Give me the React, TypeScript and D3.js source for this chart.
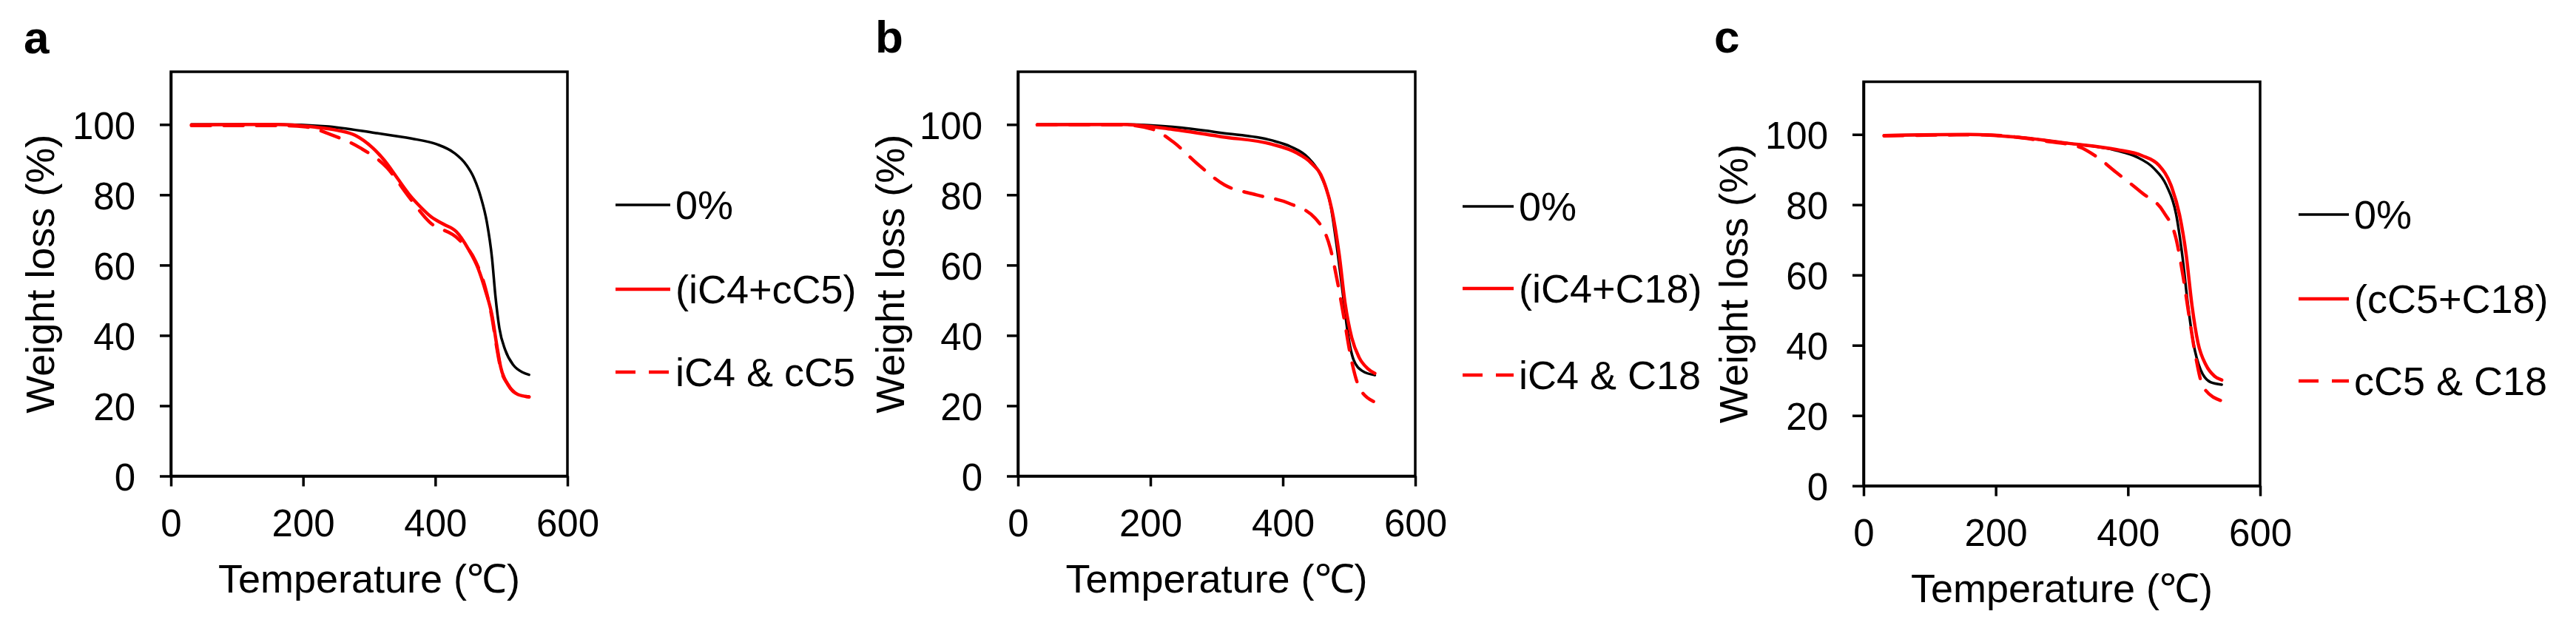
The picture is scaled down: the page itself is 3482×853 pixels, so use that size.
import { useEffect, useRef } from "react";
import * as d3 from "d3";

// TGA curves: [temperature (°C), weight (%)]
const aNeat = [
  [31, 100], [159, 100], [234, 99.5], [309, 97.6], [364, 96], [402, 94.4], [428, 92],
  [447, 88.5], [458, 85], [469, 79.3], [478, 72.3], [486, 61.8], [491, 51.3], [497, 42.1],
  [506, 35.8], [518, 31.6], [532, 29.5], [542, 28.8],
];
const aMix = [
  [31, 99.9], [159, 100], [215, 99.3], [253, 98.3], [279, 96.9], [305, 93.4], [323, 89.8],
  [342, 84.9], [361, 80], [378, 76.5], [394, 73.7], [413, 71.6], [432, 69.5], [450, 64.6],
  [465, 59], [476, 52.7], [486, 45.6], [493, 37.3], [499, 31], [510, 26], [525, 23.2], [542, 22.5],
];
const aSep = [
  [31, 99.7], [159, 99.7], [204, 99.3], [241, 97.2], [286, 93.4], [327, 87.7], [359, 79.7],
  [391, 72.3], [435, 67.4], [461, 61.1], [476, 53.4], [486, 44.9], [493, 36.6], [499, 30.6],
  [510, 26], [525, 23.2], [542, 22.5],
];

const bNeat = [
  [29, 100], [159, 100], [234, 99.3], [308, 97.6], [383, 95.5], [412, 93.7], [438, 90.6],
  [457, 85.6], [472, 77.2], [481, 66], [491, 51.3], [498, 40.8], [507, 33], [520, 29.9], [539, 28.7],
];
const bMix = [
  [29, 99.9], [159, 100], [234, 98.6], [308, 96.5], [383, 94.4], [420, 92], [442, 89.2],
  [461, 84.2], [474, 75.8], [485, 63.2], [494, 49.2], [504, 39.4], [515, 33.8], [528, 30.6], [539, 29.2],
];
const bSep = [
  [29, 99.9], [159, 99.9], [204, 98.6], [234, 95.1], [271, 88.8], [312, 82.8], [360, 80],
  [409, 77.6], [450, 73.1], [472, 64.6], [483, 54.8], [493, 44.3], [502, 34.5], [515, 25.4], [537, 21.2],
];

const cNeat = [
  [31, 99.7], [159, 100], [234, 99.2], [309, 97.5], [383, 95.4], [413, 93.6], [439, 90.4],
  [458, 85.6], [473, 77.2], [482, 66], [491, 51.2], [499, 40.7], [510, 33], [525, 29.5], [542, 28.8],
];
const cMix = [
  [31, 99.7], [159, 100], [234, 99.2], [309, 97.5], [383, 95.7], [421, 94], [447, 91.2],
  [465, 85.6], [478, 77.2], [488, 66], [497, 51.2], [506, 40.7], [518, 34.4], [531, 31.2], [542, 30.1],
];
const cSep = [
  [31, 99.6], [178, 99.9], [271, 98.2], [327, 96.4], [353, 93.6], [383, 89.1], [421, 83.4],
  [454, 77.9], [473, 70.2], [484, 59], [493, 47.7], [502, 37.3], [514, 28.1], [540, 24.3],
];

const xTicks = [0, 200, 400, 600];
const yTicks = [0, 20, 40, 60, 80, 100];

const legendA = ["0%", "(iC4+cC5)", "iC4 & cC5"];
const legendB = ["0%", "(iC4+C18)", "iC4 & C18"];
const legendC = ["0%", "(cC5+C18)", "cC5 & C18"];

const FONT = "'Liberation Sans', Arial, sans-serif";

export default function App() {
  const svgRef = useRef(null);

  useEffect(() => {
    const svg = d3.select(svgRef.current);
    svg.selectAll("*").remove();

    const panels = [
      { tag: "a", x0: 231, x1: 767, y0: 97, y1: 643.5, legX: 832, legW: 74, legY: [277, 391, 503], labX: 32, labY: 72, titleX: 73, names: legendA, series: [aNeat, aMix, aSep] },
      { tag: "b", x0: 1376, x1: 1913, y0: 97, y1: 643.5, legX: 1977, legW: 69, legY: [279, 390, 507], labX: 1183, labY: 71, titleX: 1222, names: legendB, series: [bNeat, bMix, bSep] },
      { tag: "c", x0: 2519, x1: 3055, y0: 110.5, y1: 656.7, legX: 3107, legW: 68, legY: [290, 404, 515], labX: 2317, labY: 71, titleX: 2362, names: legendC, series: [cNeat, cMix, cSep] },
    ];

    const styles = [
      { color: "#000000", width: 3.5, dash: null },
      { color: "#ff0000", width: 4.5, dash: null },
      { color: "#ff0000", width: 4.5, dash: "26,18" },
    ];

    panels.forEach((p) => {
      const x = d3.scaleLinear().domain([0, 600]).range([p.x0, p.x1]);
      const y = d3.scaleLinear().domain([0, 115]).range([p.y1, p.y0]);
      const g = svg.append("g");

      // panel letter
      g.append("text")
        .attr("x", p.labX)
        .attr("y", p.labY)
        .attr("font-family", FONT)
        .attr("font-weight", "bold")
        .attr("font-size", 62)
        .text(p.tag);

      // plot frame
      g.append("rect")
        .attr("x", p.x0)
        .attr("y", p.y0)
        .attr("width", p.x1 - p.x0)
        .attr("height", p.y1 - p.y0)
        .attr("fill", "none")
        .attr("stroke", "#000")
        .attr("stroke-width", 3.5);

      const line = d3
        .line()
        .x((d) => x(d[0]))
        .y((d) => y(d[1]))
        .curve(d3.curveMonotoneX);

      // series order as in the workbook: later ones on top
      p.series.forEach((data, i) => {
        const s = styles[i];
        g.append("path")
          .attr("d", line(data))
          .attr("fill", "none")
          .attr("stroke", s.color)
          .attr("stroke-width", s.width)
          .attr("stroke-linecap", "round")
          .attr("stroke-dasharray", s.dash);
      });

      // axes
      const yAxis = g
        .append("g")
        .attr("transform", `translate(${p.x0},0)`)
        .call(d3.axisLeft(y).tickValues(yTicks).tickSize(15).tickSizeOuter(0).tickPadding(33));
      const xAxis = g
        .append("g")
        .attr("transform", `translate(0,${p.y1})`)
        .call(d3.axisBottom(x).tickValues(xTicks).tickSize(14).tickSizeOuter(0).tickPadding(31));

      [yAxis, xAxis].forEach((ax) => {
        ax.select(".domain").attr("stroke-width", 3.5);
        ax.selectAll(".tick line").attr("stroke-width", 3.5);
        ax.selectAll(".tick text")
          .attr("font-family", FONT)
          .attr("font-size", 51)
          .attr("fill", "#000");
      });
      yAxis.selectAll(".tick text").attr("dy", "0.37em");

      // axis titles
      g.append("text")
        .attr("x", (p.x0 + p.x1) / 2)
        .attr("y", p.y1 + 157)
        .attr("text-anchor", "middle")
        .attr("font-family", FONT)
        .attr("font-size", 54)
        .text("Temperature (℃)");

      g.append("text")
        .attr("transform", `translate(${p.titleX},${(p.y0 + p.y1) / 2}) rotate(-90)`)
        .attr("text-anchor", "middle")
        .attr("font-family", FONT)
        .attr("font-size", 54)
        .text("Weight loss (%)");

      // legend
      p.names.forEach((name, i) => {
        const s = styles[i];
        const ly = p.legY[i];
        g.append("line")
          .attr("x1", p.legX)
          .attr("x2", p.legX + p.legW)
          .attr("y1", ly)
          .attr("y2", ly)
          .attr("stroke", s.color)
          .attr("stroke-width", s.width)
          .attr("stroke-dasharray", s.dash ? "27,18" : null);
        g.append("text")
          .attr("x", p.legX + p.legW + 7)
          .attr("y", ly + 19)
          .attr("font-family", FONT)
          .attr("font-size", 54)
          .text(name);
      });
    });
  }, []);

  return (
    <div style={{ position: "absolute", left: 0, top: 0, background: "#fff" }}>
      <svg ref={svgRef} width={3482} height={853} style={{ display: "block" }} />
    </div>
  );
}
